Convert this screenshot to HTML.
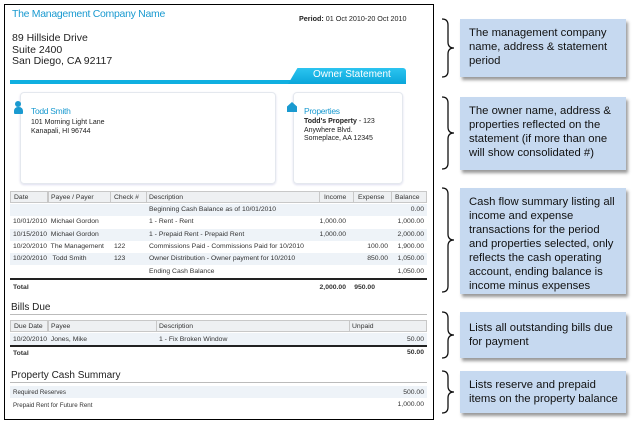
<!DOCTYPE html>
<html><head><meta charset="utf-8"><style>
*{margin:0;padding:0;box-sizing:border-box}
body{width:635px;height:426px;background:#fff;position:relative;overflow:hidden;font-family:"Liberation Sans",Arial,sans-serif;color:#222}
.a{position:absolute;white-space:nowrap}
.doc{position:absolute;left:4px;top:4px;width:430px;height:416px;border:1px solid #000}
.box{position:absolute;left:460px;width:166px;background:#c6d9f0;box-shadow:2px 3px 3px #999;font-size:11.3px;line-height:14px;padding:7px 0 0 9px;color:#111;white-space:nowrap;overflow:hidden}
.hd{position:absolute;background:#eef0f2;border:1px solid #c8c8c8;height:12px}
.band{position:absolute;background:#eef3f8;height:12px}
.cell{position:absolute;font-size:6.8px;color:#333;white-space:nowrap}
.r{text-align:right}
.card{position:absolute;border:1px solid #e4e8ee;border-radius:4px;box-shadow:0 1px 2px #dde}
</style></head><body>
<div class="doc"></div>
<div class="a" style="left:12px;top:8px;font-size:10.5px;color:#1a9ad0;letter-spacing:-0.3px">The Management Company Name</div>
<div class="a" style="left:299px;top:14px;font-size:7.2px;color:#222"><b>Period:</b> 01 Oct 2010-20 Oct 2010</div>
<div class="a" style="left:12px;top:33px;font-size:10.5px;line-height:11.5px;color:#222">89 Hillside Drive<br>Suite 2400<br>San Diego, CA 92117</div>
<div style="position:absolute;left:10px;top:80px;width:396px;height:4px;background:#10afe0"></div>
<div style="position:absolute;left:288px;top:68px;width:118px;height:16px;background:linear-gradient(#2cc4f0,#0aa6da);clip-path:polygon(8% 0,100% 0,100% 100%,0 100%);border-radius:0 3px 0 0"></div>
<div class="a" style="left:313px;top:69px;font-size:10px;color:#fff">Owner Statement</div>
<div class="card" style="left:20px;top:92px;width:256px;height:92px"></div>
<div class="card" style="left:293px;top:92px;width:110px;height:92px"></div>
<div style="position:absolute;left:15px;top:101px;width:6px;height:6px;border-radius:50%;background:#1a9ad0"></div>
<div style="position:absolute;left:14px;top:107px;width:9px;height:7px;border-radius:4px 4px 1px 1px;background:#1a9ad0"></div>
<div class="a" style="left:31px;top:106px;font-size:8.5px;color:#1a9ad0;letter-spacing:-0.3px">Todd Smith</div>
<div class="a" style="left:31px;top:119px;font-size:7px;line-height:8.7px">101 Morning Light Lane<br>Kanapali, HI 96744</div>
<div style="position:absolute;left:287px;top:102px;width:10px;height:10px;background:#1a9ad0;clip-path:polygon(50% 0,100% 45%,100% 100%,0 100%,0 45%)"></div>
<div class="a" style="left:304px;top:106px;font-size:8.5px;color:#1a9ad0;letter-spacing:-0.3px">Properties</div>
<div class="a" style="left:304px;top:118px;font-size:7px;line-height:8.5px"><b>Todd's Property</b> - 123<br>Anywhere Blvd.<br>Someplace, AA 12345</div>

<div class="hd" style="left:10px;top:191px;width:38px"></div>
<div class="hd" style="left:48px;top:191px;width:63px"></div>
<div class="hd" style="left:110px;top:191px;width:37px"></div>
<div class="hd" style="left:146px;top:191px;width:174px"></div>
<div class="hd" style="left:319px;top:191px;width:35px"></div>
<div class="hd" style="left:353px;top:191px;width:39px"></div>
<div class="hd" style="left:391px;top:191px;width:36px"></div>
<div class="cell" style="left:14px;top:194px">Date</div>
<div class="cell" style="left:51px;top:194px">Payee / Payer</div>
<div class="cell" style="left:114px;top:194px">Check #</div>
<div class="cell" style="left:149px;top:194px">Description</div>
<div class="cell" style="left:324px;top:194px">Income</div>
<div class="cell" style="left:358px;top:194px">Expense</div>
<div class="cell" style="left:395px;top:194px">Balance</div>
<div class="band" style="left:10px;top:204px;width:417px"></div>
<div class="band" style="left:10px;top:229px;width:417px"></div>
<div class="band" style="left:10px;top:253px;width:417px"></div>
<div class="cell" style="left:149px;top:206px">Beginning Cash Balance as of 10/01/2010</div>
<div class="cell r" style="left:380px;top:206px;width:44px">0.00</div>
<div class="cell" style="left:13px;top:218px">10/01/2010&nbsp; Michael Gordon</div>
<div class="cell" style="left:149px;top:218px">1 - Rent - Rent</div>
<div class="cell r" style="left:300px;top:218px;width:46px">1,000.00</div>
<div class="cell r" style="left:380px;top:218px;width:44px">1,000.00</div>
<div class="cell" style="left:13px;top:231px">10/15/2010&nbsp; Michael Gordon</div>
<div class="cell" style="left:149px;top:231px">1 - Prepaid Rent - Prepaid Rent</div>
<div class="cell r" style="left:300px;top:231px;width:46px">1,000.00</div>
<div class="cell r" style="left:380px;top:231px;width:44px">2,000.00</div>
<div class="cell" style="left:13px;top:243px">10/20/2010&nbsp; The Management</div>
<div class="cell" style="left:114px;top:243px">122</div>
<div class="cell" style="left:149px;top:243px">Commissions Paid - Commissions Paid for 10/2010</div>
<div class="cell r" style="left:340px;top:243px;width:48px">100.00</div>
<div class="cell r" style="left:380px;top:243px;width:44px">1,900.00</div>
<div class="cell" style="left:13px;top:255px">10/20/2010&nbsp;&nbsp; Todd Smith</div>
<div class="cell" style="left:114px;top:255px">123</div>
<div class="cell" style="left:149px;top:255px">Owner Distribution - Owner payment for 10/2010</div>
<div class="cell r" style="left:340px;top:255px;width:48px">850.00</div>
<div class="cell r" style="left:380px;top:255px;width:44px">1,050.00</div>
<div class="cell" style="left:149px;top:268px">Ending Cash Balance</div>
<div class="cell r" style="left:380px;top:268px;width:44px">1,050.00</div>
<div style="position:absolute;left:10px;top:278px;width:417px;height:2px;background:#222"></div>
<div class="cell" style="left:13px;top:284px;font-weight:bold">Total</div>
<div class="cell r" style="left:300px;top:284px;width:46px;font-weight:bold">2,000.00</div>
<div class="cell r" style="left:330px;top:284px;width:45px;font-weight:bold">950.00</div>

<div class="a" style="left:11px;top:302px;font-size:10px">Bills Due</div>
<div style="position:absolute;left:10px;top:314px;width:417px;height:1px;background:#bbb"></div>
<div class="hd" style="left:10px;top:320px;width:38px"></div>
<div class="hd" style="left:48px;top:320px;width:109px"></div>
<div class="hd" style="left:156px;top:320px;width:194px"></div>
<div class="hd" style="left:349px;top:320px;width:78px"></div>
<div class="cell" style="left:14px;top:323px">Due Date</div>
<div class="cell" style="left:51px;top:323px">Payee</div>
<div class="cell" style="left:159px;top:323px">Description</div>
<div class="cell" style="left:352px;top:323px">Unpaid</div>
<div class="band" style="left:10px;top:333px;width:417px"></div>
<div class="cell" style="left:13px;top:336px">10/20/2010&nbsp; Jones, Mike</div>
<div class="cell" style="left:159px;top:336px">1 - Fix Broken Window</div>
<div class="cell r" style="left:380px;top:336px;width:44px">50.00</div>
<div style="position:absolute;left:10px;top:345px;width:417px;height:2px;background:#222"></div>
<div class="cell" style="left:13px;top:350px;font-weight:bold">Total</div>
<div class="cell r" style="left:380px;top:349px;width:44px;font-weight:bold">50.00</div>

<div class="a" style="left:11px;top:370px;font-size:10px">Property Cash Summary</div>
<div style="position:absolute;left:10px;top:382px;width:417px;height:1px;background:#bbb"></div>
<div class="band" style="left:10px;top:386px;width:417px"></div>
<div class="cell" style="left:13px;top:389px;font-size:6.2px">Required Reserves</div>
<div class="cell r" style="left:380px;top:389px;width:44px">500.00</div>
<div class="cell" style="left:13px;top:402px;font-size:6.2px">Prepaid Rent for Future Rent</div>
<div class="cell r" style="left:380px;top:401px;width:44px">1,000.00</div>

<svg width="635" height="426" style="position:absolute;left:0;top:0" fill="none" stroke="#111" stroke-width="1.3">
<path d="M442,19 q6,0 6,6 v17 q0,6 6,6 q-6,0 -6,6 v17 q0,6 -6,6"/>
<path d="M442,97 q6,0 6,6 v24 q0,6 6,6 q-6,0 -6,6 v24 q0,6 -6,6"/>
<path d="M442,188 q6,0 6,6 v40 q0,6 6,6 q-6,0 -6,6 v40 q0,6 -6,6"/>
<path d="M442,312 q6,0 6,6 v11 q0,6 6,6 q-6,0 -6,6 v11 q0,6 -6,6"/>
<path d="M442,371 q6,0 6,6 v9 q0,6 6,6 q-6,0 -6,6 v9 q0,6 -6,6"/>
</svg>
<div class="box" style="top:19px;height:58px">The management company<br>name, address &amp; statement<br>period</div>
<div class="box" style="top:97px;height:73px">The owner name, address &amp;<br>properties reflected on the<br>statement (if more than one<br>will show consolidated #)</div>
<div class="box" style="top:188px;height:106px">Cash flow summary listing all<br>income and expense<br>transactions for the period<br>and properties selected, only<br>reflects the cash operating<br>account, ending balance is<br>income minus expenses</div>
<div class="box" style="top:312px;height:46px;padding-top:9px">Lists all outstanding bills due<br>for payment</div>
<div class="box" style="top:371px;height:42px;padding-top:7px">Lists reserve and prepaid<br>items on the property balance</div>
</body></html>
